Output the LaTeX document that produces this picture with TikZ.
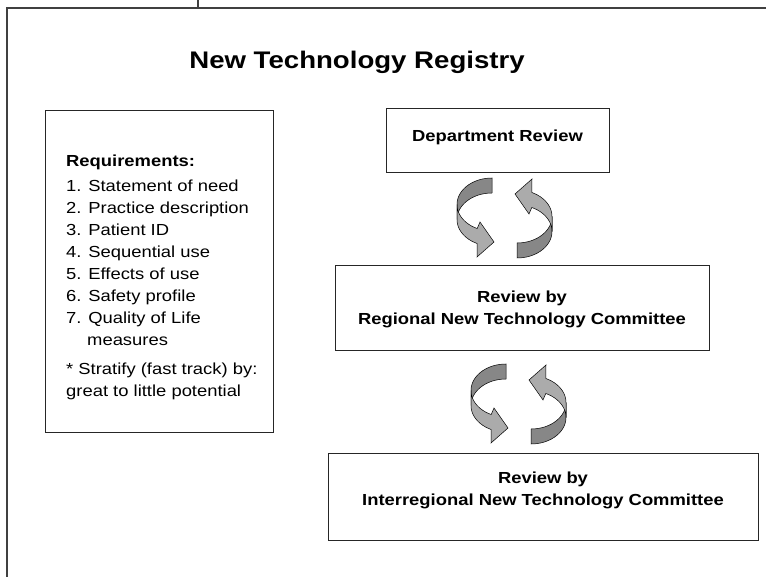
\documentclass[tikz,border=0pt]{standalone}
\usepackage{fontspec}
\setmainfont{Liberation Sans}[FakeStretch=1.15]
\newcommand\halfcycle{%
  \filldraw[arrback] plot[domain=90:180,samples=30,variable=\t] ({492+35*cos(\t)},{212-26.5*sin(\t)-7.5})
     -- plot[domain=180:90,samples=30,variable=\t] ({492+35*cos(\t)},{212-26.5*sin(\t)+7.5}) -- cycle;
  \filldraw[arrfront] plot[domain=180:245,samples=30,variable=\t] ({492+35*cos(\t)},{212-26.5*sin(\t)-7.5})
     -- (480,222) -- (494,242) -- (477,257)
     -- plot[domain=245:180,samples=30,variable=\t] ({492+35*cos(\t)},{212-26.5*sin(\t)+7.5}) -- cycle;
}
\begin{document}
\begin{tikzpicture}[x=1pt,y=-1pt,
  frameline/.style={line width=1.3pt, draw=black!75},
  box/.style={draw=black!85, line width=0.9pt, inner sep=0pt},
  ttl/.style={font=\bfseries\fontsize{24}{28}\selectfont},
  boldtxt/.style={font=\bfseries\fontsize{16}{22}\selectfont, align=center},
  req/.style={font=\fontsize{16}{22}\selectfont, anchor=base west, inner sep=0pt},
  reqb/.style={req, font=\bfseries\fontsize{16}{22}\selectfont},
  arrback/.style={fill=black!47, draw=black, line width=0.5pt},
  arrfront/.style={fill=black!33, draw=black, line width=0.5pt}]
\useasboundingbox (0,0) rectangle (766,577);
% frame
\coordinate (f0) at (198,0);
\coordinate (f1) at (198,8);
\coordinate (f2) at (7,8);
\coordinate (f3) at (766,8);
\coordinate (f4) at (7,577);
\draw[frameline] (f0) -- (f1);
\draw[frameline] (f3) -- (f2) -- (f4);
% title
\node[ttl] (title) at (357,62) {New Technology Registry};
% requirements box
\node[box, minimum width=228pt, minimum height=322pt] (reqbox) at (159,271) {};
\node[reqb] (r0) at (66,167) {Requirements:};
\node[req] (r1) at (66,192) {1. Statement of need};
\node[req] (r2) at (66,214) {2. Practice description};
\node[req] (r3) at (66,236) {3. Patient ID};
\node[req] (r4) at (66,258) {4. Sequential use};
\node[req] (r5) at (66,280) {5. Effects of use};
\node[req] (r6) at (66,302) {6. Safety profile};
\node[req] (r7) at (66,324) {7. Quality of Life};
\node[req] (r8) at (87,346) {measures};
\node[req] (r9) at (66,374) {* Stratify (fast track) by:};
\node[req] (r10) at (66,396) {great to little potential};
% review boxes
\node[box, minimum width=223pt, minimum height=64pt] (dept) at (497.5,140) {};
\node[boldtxt] (depttxt) at (497.5,137) {Department Review};
\node[box, minimum width=374pt, minimum height=85pt] (reg) at (522,307.5) {};
\node[boldtxt] (regtxt) at (522,309) {Review by\\Regional New Technology Committee};
\node[box, minimum width=430pt, minimum height=87pt] (inter) at (543,496.5) {};
\node[boldtxt] (intertxt) at (543,490) {Review by\\Interregional New Technology Committee};
% cycle arrows
\halfcycle
\begin{scope}[rotate around={180:(504.5,218)}]\halfcycle\end{scope}
\begin{scope}[shift={(14,186)}]
  \halfcycle
  \begin{scope}[rotate around={180:(504.5,218)}]\halfcycle\end{scope}
\end{scope}
\end{tikzpicture}
\end{document}
